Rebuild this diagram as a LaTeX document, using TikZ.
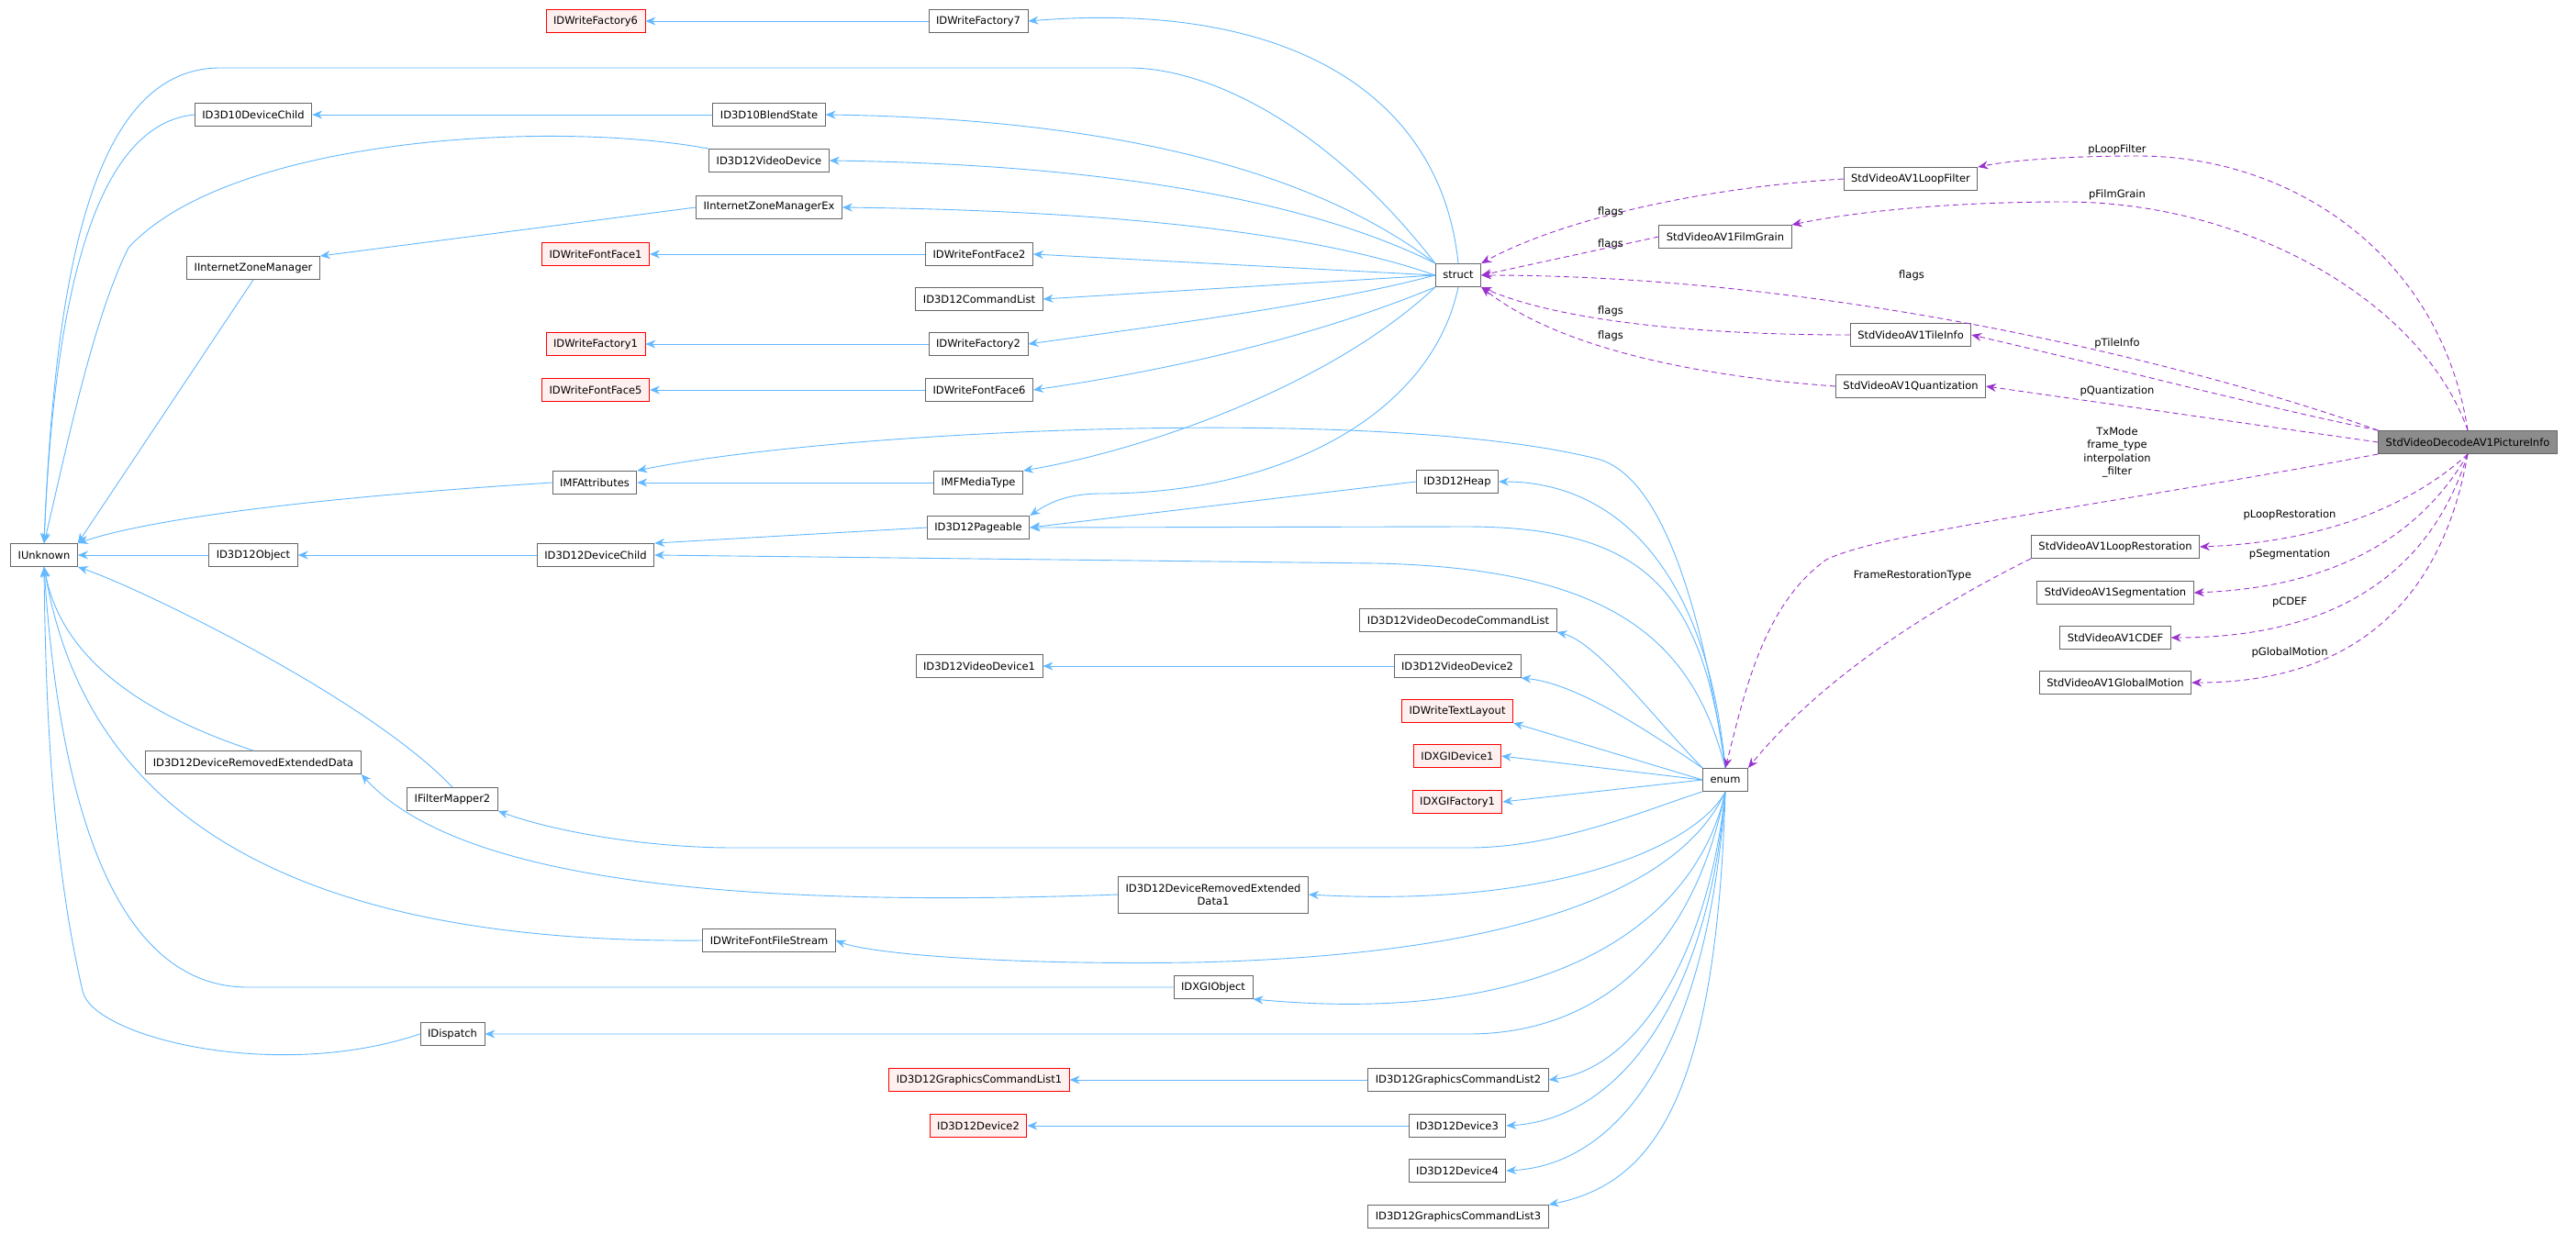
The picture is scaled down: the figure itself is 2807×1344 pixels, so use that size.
\documentclass[tikz,border=0pt]{standalone}
\usepackage{fontspec}
\setmainfont{DejaVu Sans}
\usetikzlibrary{arrows.meta}
\definecolor{eb}{HTML}{63B8FF}
\definecolor{ep}{HTML}{9A32CD}
\definecolor{rf}{HTML}{FFF0F0}
\begin{document}
\begin{tikzpicture}[x=1pt,y=-1pt,
 box/.style={draw=black!60,fill=white,line width=0.9pt,minimum height=25pt,inner xsep=8pt,inner ysep=2pt,font=\fontsize{11.5}{13.5}\selectfont,align=center},
 red/.style={box,draw=red,fill=rf},
 gray/.style={box,fill=black!45},
 inh/.style={draw=eb,line width=0.9pt,-{Stealth[length=11pt,width=9pt]}},
 use/.style={draw=ep,line width=0.9pt,dash pattern=on 6pt off 4pt,-{Stealth[length=11pt,width=9pt]}},
 lab/.style={font=\fontsize{11.5}{13.5}\selectfont,align=center,inner sep=1pt}]
\useasboundingbox (0,0) rectangle (2807,1344);
% nodes
\node[red] (F6) at (649,23) {IDWriteFactory6};
\node[box] (F7) at (1066,23) {IDWriteFactory7};
\node[box] (D10DC) at (276,125) {ID3D10DeviceChild};
\node[box] (BS) at (838,125) {ID3D10BlendState};
\node[box] (VD) at (838,175) {ID3D12VideoDevice};
\node[box] (IZMEx) at (838,226) {IInternetZoneManagerEx};
\node[box] (IZM) at (276,292) {IInternetZoneManager};
\node[red] (FF1) at (649,277) {IDWriteFontFace1};
\node[box] (FF2) at (1067,277) {IDWriteFontFace2};
\node[box] (CL) at (1067,326) {ID3D12CommandList};
\node[red] (Fa1) at (649,375) {IDWriteFactory1};
\node[box] (Fa2) at (1066,375) {IDWriteFactory2};
\node[red] (FF5) at (649,425) {IDWriteFontFace5};
\node[box] (FF6) at (1067,425) {IDWriteFontFace6};
\node[box] (struct) at (1589,300) {struct};
\node[box] (IMFA) at (648,526) {IMFAttributes};
\node[box] (IMFMT) at (1066,526) {IMFMediaType};
\node[box] (Heap) at (1588,525) {ID3D12Heap};
\node[box] (Pg) at (1066,575) {ID3D12Pageable};
\node[box] (IU) at (48,605) {IUnknown};
\node[box] (D12O) at (276,605) {ID3D12Object};
\node[box] (DC) at (649,605) {ID3D12DeviceChild};
\node[box] (VDCL) at (1589,676) {ID3D12VideoDecodeCommandList};
\node[box] (VD1) at (1067,726) {ID3D12VideoDevice1};
\node[box] (VD2) at (1588,726) {ID3D12VideoDevice2};
\node[red] (TL) at (1588,775) {IDWriteTextLayout};
\node[red] (XD1) at (1588,824) {IDXGIDevice1};
\node[red] (XF1) at (1588,874) {IDXGIFactory1};
\node[box] (enum) at (1880,850) {enum};
\node[box] (DRED) at (276,831) {ID3D12DeviceRemovedExtendedData};
\node[box] (FM2) at (493,871) {IFilterMapper2};
\node[box,minimum height=40pt] (DRED1) at (1322,975) {ID3D12DeviceRemovedExtended\\Data1};
\node[box] (FFS) at (838,1025) {IDWriteFontFileStream};
\node[box] (XO) at (1322,1076) {IDXGIObject};
\node[box] (Disp) at (493,1127) {IDispatch};
\node[red] (GCL1) at (1067,1177) {ID3D12GraphicsCommandList1};
\node[box] (GCL2) at (1589,1177) {ID3D12GraphicsCommandList2};
\node[red] (Dev2) at (1066,1227) {ID3D12Device2};
\node[box] (Dev3) at (1588,1227) {ID3D12Device3};
\node[box] (Dev4) at (1588,1276) {ID3D12Device4};
\node[box] (GCL3) at (1589,1326) {ID3D12GraphicsCommandList3};
\node[box] (LF) at (2082,195) {StdVideoAV1LoopFilter};
\node[box] (FG) at (1880,258) {StdVideoAV1FilmGrain};
\node[box] (TI) at (2082,365) {StdVideoAV1TileInfo};
\node[box] (Q) at (2082,421) {StdVideoAV1Quantization};
\node[gray] (PI) at (2689,482) {StdVideoDecodeAV1PictureInfo};
\node[box] (LR) at (2305,596) {StdVideoAV1LoopRestoration};
\node[box] (Seg) at (2305,646) {StdVideoAV1Segmentation};
\node[box] (CDEF) at (2305,695) {StdVideoAV1CDEF};
\node[box] (GM) at (2305,744) {StdVideoAV1GlobalMotion};
% simple inheritance
\draw[inh] (F7) -- (F6);
\draw[inh] (BS) -- (D10DC);
\draw[inh] (IZMEx.west) -- (IZM.north east);
\draw[inh] (FF2) -- (FF1);
\draw[inh] (Fa2) -- (Fa1);
\draw[inh] (FF6) -- (FF5);
\draw[inh] (IMFMT) -- (IMFA);
\draw[inh] (Heap.west) -- (Pg.east);
\draw[inh] (Pg.west) -- (DC.north east);
\draw[inh] (DC) -- (D12O);
\draw[inh] (D12O) -- (IU);
\draw[inh] (VD2) -- (VD1);
\draw[inh] (GCL2) -- (GCL1);
\draw[inh] (Dev3) -- (Dev2);
\draw[inh] (DRED1.west) .. controls (800,990) and (500,960) .. (DRED.south east);
% IUnknown
\draw[inh] (struct.north west) .. controls (1450,140) and (1320,74) .. (1230,74) -- (240,74) .. controls (100,74) and (60,300) .. (IU.north);
\draw[inh] (D10DC.west) .. controls (110,135) and (60,300) .. (IU.north);
\draw[inh] (VD.north west) .. controls (600,130) and (250,150) .. (140,270) .. controls (100,350) and (70,500) .. (IU.north);
\draw[inh] (IZM.south) -- (IU.north east);
\draw[inh] (IMFA.west) .. controls (300,545) and (150,570) .. (IU.north east);
\draw[inh] (FM2.north) .. controls (400,760) and (150,640) .. (IU.south east);
\draw[inh] (DRED.north) .. controls (100,760) and (60,680) .. (IU.south);
\draw[inh] (FFS.west) .. controls (200,1030) and (80,800) .. (IU.south);
\draw[inh] (XO.west) -- (270,1076) .. controls (100,1076) and (60,800) .. (IU.south);
\draw[inh] (Disp.west) .. controls (300,1180) and (100,1130) .. (90,1080) .. controls (60,950) and (50,800) .. (IU.south);
% struct parents
\draw[inh] (struct.north) .. controls (1570,100) and (1400,0) .. (F7.east);
\draw[inh] (struct.north west) .. controls (1450,200) and (1250,130) .. (BS.east);
\draw[inh] (struct.north west) .. controls (1450,230) and (1250,180) .. (VD.east);
\draw[inh] (struct.west) .. controls (1450,260) and (1250,230) .. (IZMEx.east);
\draw[inh] (struct.west) -- (FF2.east);
\draw[inh] (struct.west) -- (CL.east);
\draw[inh] (struct.west) .. controls (1450,330) and (1300,350) .. (Fa2.east);
\draw[inh] (struct.south west) .. controls (1450,360) and (1300,400) .. (FF6.east);
\draw[inh] (struct.south west) .. controls (1450,420) and (1250,490) .. (IMFMT.north east);
\draw[inh] (struct.south) .. controls (1560,450) and (1400,538) .. (1200,538) .. controls (1160,538) and (1140,550) .. (Pg.north east);
% enum parents
\draw[inh] (enum.north) .. controls (1860,700) and (1820,520) .. (1740,500) .. controls (1500,440) and (900,470) .. (IMFA.north east);
\draw[inh] (enum.north) .. controls (1860,620) and (1760,525) .. (Heap.east);
\draw[inh] (enum.north) .. controls (1855,650) and (1800,575) .. (1600,574) -- (Pg.east);
\draw[inh] (enum.north) .. controls (1845,700) and (1760,620) .. (1500,614) -- (DC.east);
\draw[inh] (enum.north west) .. controls (1800,780) and (1740,700) .. (VDCL.south east);
\draw[inh] (enum.north west) .. controls (1800,800) and (1720,745) .. (VD2.south east);
\draw[inh] (enum.west) -- (TL.south east);
\draw[inh] (enum.west) -- (XD1.east);
\draw[inh] (enum.west) -- (XF1.east);
\draw[inh] (enum.south west) .. controls (1800,880) and (1700,924) .. (1600,924) -- (800,924) .. controls (700,924) and (600,905) .. (FM2.south east);
\draw[inh] (enum.south) .. controls (1850,920) and (1700,990) .. (DRED1.east);
\draw[inh] (enum.south) .. controls (1840,950) and (1700,1040) .. (1300,1049) .. controls (1100,1052) and (950,1040) .. (FFS.east);
\draw[inh] (enum.south) .. controls (1850,1000) and (1700,1120) .. (XO.south east);
\draw[inh] (enum.south) .. controls (1840,1060) and (1720,1127) .. (1600,1127) -- (Disp.east);
\draw[inh] (enum.south) .. controls (1860,1050) and (1780,1165) .. (GCL2.east);
\draw[inh] (enum.south) .. controls (1860,1100) and (1760,1220) .. (Dev3.east);
\draw[inh] (enum.south) .. controls (1860,1150) and (1760,1270) .. (Dev4.east);
\draw[inh] (enum.south) .. controls (1870,1200) and (1800,1290) .. (GCL3.north east);
% usage (purple)
\draw[use] (LF.west) .. controls (1850,205) and (1700,240) .. (struct.north east);
\draw[use] (FG.west) -- (struct.east);
\draw[use] (PI.north west) .. controls (2400,400) and (2000,300) .. (struct.east);
\draw[use] (TI.west) .. controls (1850,365) and (1700,350) .. (struct.south east);
\draw[use] (Q.west) .. controls (1850,410) and (1700,380) .. (struct.south east);
\draw[use] (PI.north) .. controls (2660,280) and (2500,170) .. (2330,170) .. controls (2250,170) and (2190,175) .. (LF.north east);
\draw[use] (PI.north) .. controls (2640,330) and (2450,220) .. (2250,220) .. controls (2100,220) and (2000,235) .. (FG.north east);
\draw[use] (PI.north west) .. controls (2450,440) and (2300,400) .. (TI.east);
\draw[use] (PI.west) -- (Q.east);
\draw[use] (PI.south west) .. controls (2300,550) and (2050,580) .. (1990,610) .. controls (1920,660) and (1900,760) .. (enum.north);
\draw[use] (LR.south west) .. controls (2150,640) and (2000,720) .. (enum.north east);
\draw[use] (PI.south) .. controls (2640,540) and (2550,590) .. (LR.east);
\draw[use] (PI.south) .. controls (2640,580) and (2550,640) .. (Seg.east);
\draw[use] (PI.south) .. controls (2650,620) and (2550,695) .. (CDEF.east);
\draw[use] (PI.south) .. controls (2660,660) and (2560,744) .. (GM.east);
% labels
\node[lab] (l1) at (1755,231) {flags};
\node[lab] (l2) at (1755,266) {flags};
\node[lab] (l3) at (2083,300) {flags};
\node[lab] (l4) at (1755,339) {flags};
\node[lab] (l5) at (1755,366) {flags};
\node[lab] (l6) at (2307,163) {pLoopFilter};
\node[lab] (l7) at (2307,212) {pFilmGrain};
\node[lab] (l8) at (2307,374) {pTileInfo};
\node[lab] (l9) at (2307,426) {pQuantization};
\node[lab,font=\fontsize{11.5}{14.5}\selectfont] (l10) at (2307,493) {TxMode\\frame\_type\\interpolation\\\_filter};
\node[lab] (l11) at (2495,561) {pLoopRestoration};
\node[lab] (l12) at (2495,604) {pSegmentation};
\node[lab] (l13) at (2495,656) {pCDEF};
\node[lab] (l14) at (2495,711) {pGlobalMotion};
\node[lab] (l15) at (2084,627) {FrameRestorationType};
\end{tikzpicture}
\end{document}
